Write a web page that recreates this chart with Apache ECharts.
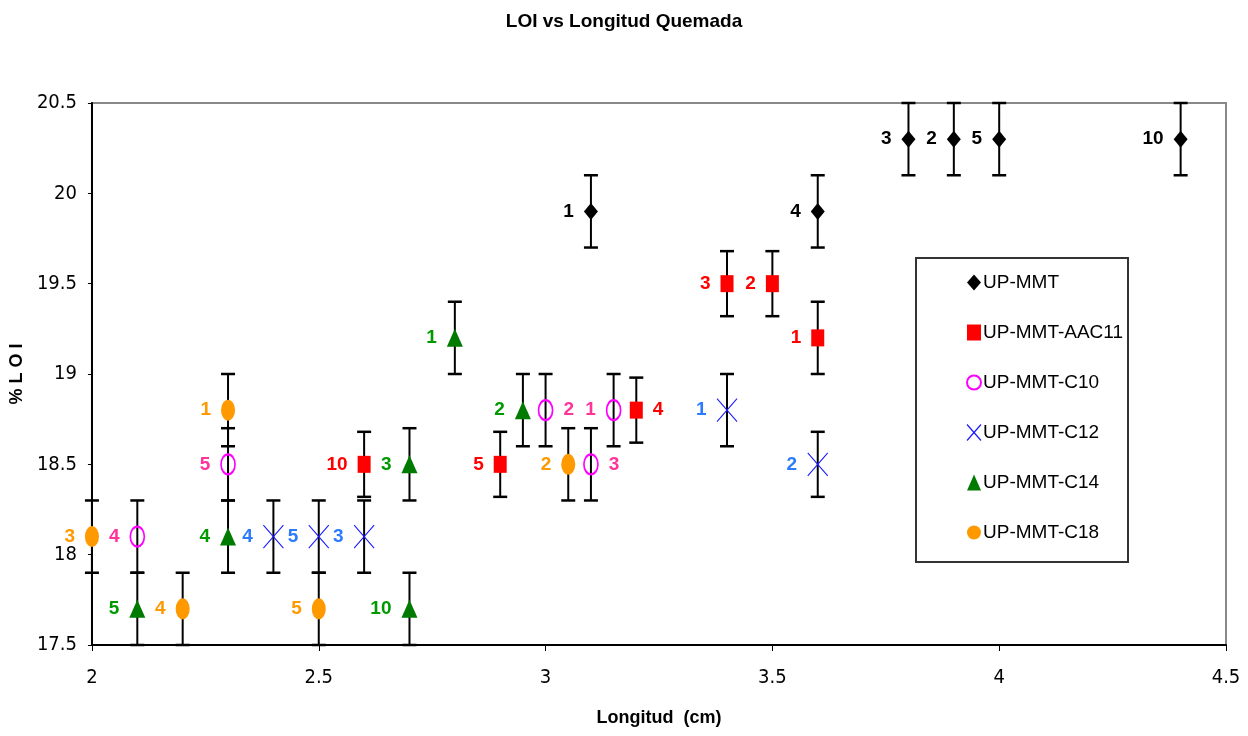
<!DOCTYPE html>
<html>
<head>
<meta charset="utf-8">
<script src="https://cdn.jsdelivr.net/npm/echarts@6/dist/echarts.min.js"></script>
<style>html,body{margin:0;padding:0;background:#fff;}#c{width:1248px;height:736px;}</style>
</head>
<body>
<div id="c"></div>
<script>
// ---- data ----
const seriesNames = ['UP-MMT', 'UP-MMT-AAC11', 'UP-MMT-C10', 'UP-MMT-C12', 'UP-MMT-C14', 'UP-MMT-C18'];

const mmtX = [3.1, 3.6, 3.8, 3.9, 4.0, 4.4];
const mmtY = [19.9, 19.9, 20.3, 20.3, 20.3, 20.3];
const mmtLbl = ['1', '4', '3', '2', '5', '10'];
const mmtSide = ['left', 'left', 'left', 'left', 'left', 'left'];
const mmtErr = [0.2, 0.2, 0.2, 0.2, 0.2, 0.2];

const aacX = [3.4, 3.5, 3.6, 3.2, 2.9, 2.6];
const aacY = [19.5, 19.5, 19.2, 18.8, 18.5, 18.5];
const aacLbl = ['3', '2', '1', '4', '5', '10'];
const aacSide = ['left', 'left', 'left', 'right', 'left', 'left'];
const aacErr = [0.18, 0.18, 0.2, 0.18, 0.18, 0.18];

const c10X = [2.1, 2.3, 3.0, 3.15, 3.1];
const c10Y = [18.1, 18.5, 18.8, 18.8, 18.5];
const c10Lbl = ['4', '5', '2', '1', '3'];
const c10Side = ['left', 'left', 'right', 'left', 'right'];
const c10Err = [0.2, 0.2, 0.2, 0.2, 0.2];

const c12X = [2.4, 2.5, 2.6, 3.4, 3.6];
const c12Y = [18.1, 18.1, 18.1, 18.8, 18.5];
const c12Lbl = ['4', '5', '3', '1', '2'];
const c12Side = ['left', 'left', 'left', 'left', 'left'];
const c12Err = [0.2, 0.2, 0.2, 0.2, 0.18];

const c14X = [2.1, 2.3, 2.7, 2.7, 2.8, 2.95];
const c14Y = [17.7, 18.1, 18.5, 17.7, 19.2, 18.8];
const c14Lbl = ['5', '4', '3', '10', '1', '2'];
const c14Side = ['left', 'left', 'left', 'left', 'left', 'left'];
const c14Err = [0.2, 0.2, 0.2, 0.2, 0.2, 0.2];

const c18X = [2.0, 2.2, 2.3, 2.5, 3.05];
const c18Y = [18.1, 17.7, 18.8, 17.7, 18.5];
const c18Lbl = ['3', '4', '1', '5', '2'];
const c18Side = ['left', 'left', 'left', 'left', 'left'];
const c18Err = [0.2, 0.2, 0.2, 0.2, 0.2];

const xTicks = [2, 2.5, 3, 3.5, 4, 4.5];
const yTicks = [17.5, 18, 18.5, 19, 19.5, 20, 20.5];

// ---- styles ----
const sets = [
  {x: mmtX, y: mmtY, l: mmtLbl, s: mmtSide, e: mmtErr, symbol: 'diamond', size: [14, 17], fill: '#000', stroke: null, lw: 0, lc: '#000'},
  {x: aacX, y: aacY, l: aacLbl, s: aacSide, e: aacErr, symbol: 'rect', size: [13, 17], fill: '#ff0000', stroke: null, lw: 0, lc: '#ff0000'},
  {x: c10X, y: c10Y, l: c10Lbl, s: c10Side, e: c10Err, symbol: 'circle', size: [14, 20], fill: 'rgba(0,0,0,0)', stroke: '#ff00ff', lw: 2, lc: '#ff3399'},
  {x: c12X, y: c12Y, l: c12Lbl, s: c12Side, e: c12Err, symbol: 'path://M0,0L20,23M20,0L0,23', size: [20, 23], fill: 'rgba(0,0,0,0)', stroke: '#1a1aff', lw: 1.2, lc: '#2b7bff'},
  {x: c14X, y: c14Y, l: c14Lbl, s: c14Side, e: c14Err, symbol: 'triangle', size: [16, 18], fill: '#007a00', stroke: null, lw: 0, lc: '#009a00'},
  {x: c18X, y: c18Y, l: c18Lbl, s: c18Side, e: c18Err, symbol: 'circle', size: [14, 21], fill: '#ff9900', stroke: null, lw: 0, lc: '#ff9900'}
];

const errData = [];
sets.forEach(st => st.x.forEach((x, i) => errData.push([x, st.y[i], st.e[i]])));

const series = [{
  type: 'custom',
  name: 'err',
  z: 1,
  silent: true,
  data: errData,
  renderItem: function (params, api) {
    const x = api.value(0), y = api.value(1), e = api.value(2);
    const top = api.coord([x, y + e]);
    const bot = api.coord([x, y - e]);
    const hw = 7;
    return {
      type: 'group',
      children: [
        {type: 'line', shape: {x1: top[0], y1: top[1], x2: bot[0], y2: bot[1]}, style: {stroke: '#000', lineWidth: 2}},
        {type: 'line', shape: {x1: top[0] - hw, y1: top[1], x2: top[0] + hw, y2: top[1]}, style: {stroke: '#000', lineWidth: 2.5}},
        {type: 'line', shape: {x1: bot[0] - hw, y1: bot[1], x2: bot[0] + hw, y2: bot[1]}, style: {stroke: '#000', lineWidth: 2.5}}
      ]
    };
  }
}];

sets.forEach((st, k) => {
  series.push({
    type: 'scatter',
    name: seriesNames[k],
    z: 3,
    symbol: st.symbol,
    symbolSize: st.size,
    symbolKeepAspect: false,
    itemStyle: {color: st.fill, borderColor: st.stroke || st.fill, borderWidth: st.lw, opacity: 1},
    emphasis: {disabled: true},
    label: {
      show: true,
      formatter: p => p.data.name,
      color: st.lc,
      fontFamily: 'Liberation Sans, Arial, sans-serif',
      fontWeight: 'bold',
      fontSize: 19,
      distance: 10
    },
    data: st.x.map((x, i) => ({value: [x, st.y[i]], name: st.l[i], label: {position: st.s[i]}}))
  });
});

const legendIcons = ['diamond', 'rect', 'circle', 'path://M0,0L20,23M20,0L0,23', 'triangle', 'circle'];
const tickFont = "'DejaVu Sans Condensed', 'Liberation Sans Narrow', sans-serif";

const chart = echarts.init(document.getElementById('c'), null, {renderer: 'canvas'});
chart.setOption({
  backgroundColor: '#fff',
  animation: false,
  title: {
    text: 'LOI vs Longitud Quemada',
    left: 'center',
    top: 7,
    textStyle: {fontFamily: 'Liberation Sans, Arial, sans-serif', fontWeight: 'bold', fontSize: 19, color: '#000'}
  },
  grid: {left: 91, right: 22, top: 103, bottom: 91, show: true, borderColor: '#888', borderWidth: 2, backgroundColor: '#fff'},
  xAxis: {
    type: 'value', min: 2, max: 4.5, interval: 0.5,
    name: 'Longitud  (cm)', nameLocation: 'middle', nameGap: 64,
    nameTextStyle: {fontFamily: 'Liberation Sans, Arial, sans-serif', fontWeight: 'bold', fontSize: 18, color: '#000'},
    axisLine: {lineStyle: {color: '#000', width: 2}},
    axisTick: {length: 6, lineStyle: {color: '#000'}},
    splitLine: {show: false},
    axisLabel: {margin: 23, color: '#000', fontSize: 20, fontFamily: tickFont, formatter: v => String(v)}
  },
  yAxis: {
    type: 'value', min: 17.5, max: 20.5, interval: 0.5,
    name: '% L O I', nameLocation: 'middle', nameGap: 55, nameRotate: 90,
    nameTextStyle: {fontFamily: 'Liberation Sans, Arial, sans-serif', fontWeight: 'bold', fontSize: 18, color: '#000'},
    axisLine: {lineStyle: {color: '#000', width: 2}},
    axisTick: {length: 4, lineStyle: {color: '#000'}},
    splitLine: {show: false},
    axisLabel: {margin: 15, color: '#000', fontSize: 20, fontFamily: tickFont, formatter: v => String(v)}
  },
  legend: {
    orient: 'vertical',
    left: 961, top: 268,
    itemWidth: 14, itemHeight: 16, itemGap: 31,
    selectedMode: false,
    textStyle: {fontFamily: 'Liberation Sans, Arial, sans-serif', fontSize: 19, color: '#000', padding: [0, 0, 0, -3]},
    data: seriesNames.map((n, k) => ({
      name: n, icon: legendIcons[k],
      itemStyle: {color: sets[k].fill, borderColor: sets[k].stroke || sets[k].fill, borderWidth: sets[k].lw}
    }))
  },
  graphic: [{
    type: 'rect', z: 100,
    shape: {x: 916, y: 258, width: 212, height: 304},
    style: {fill: 'none', stroke: '#333', lineWidth: 2}
  }],
  series: series
});
</script>
</body>
</html>
